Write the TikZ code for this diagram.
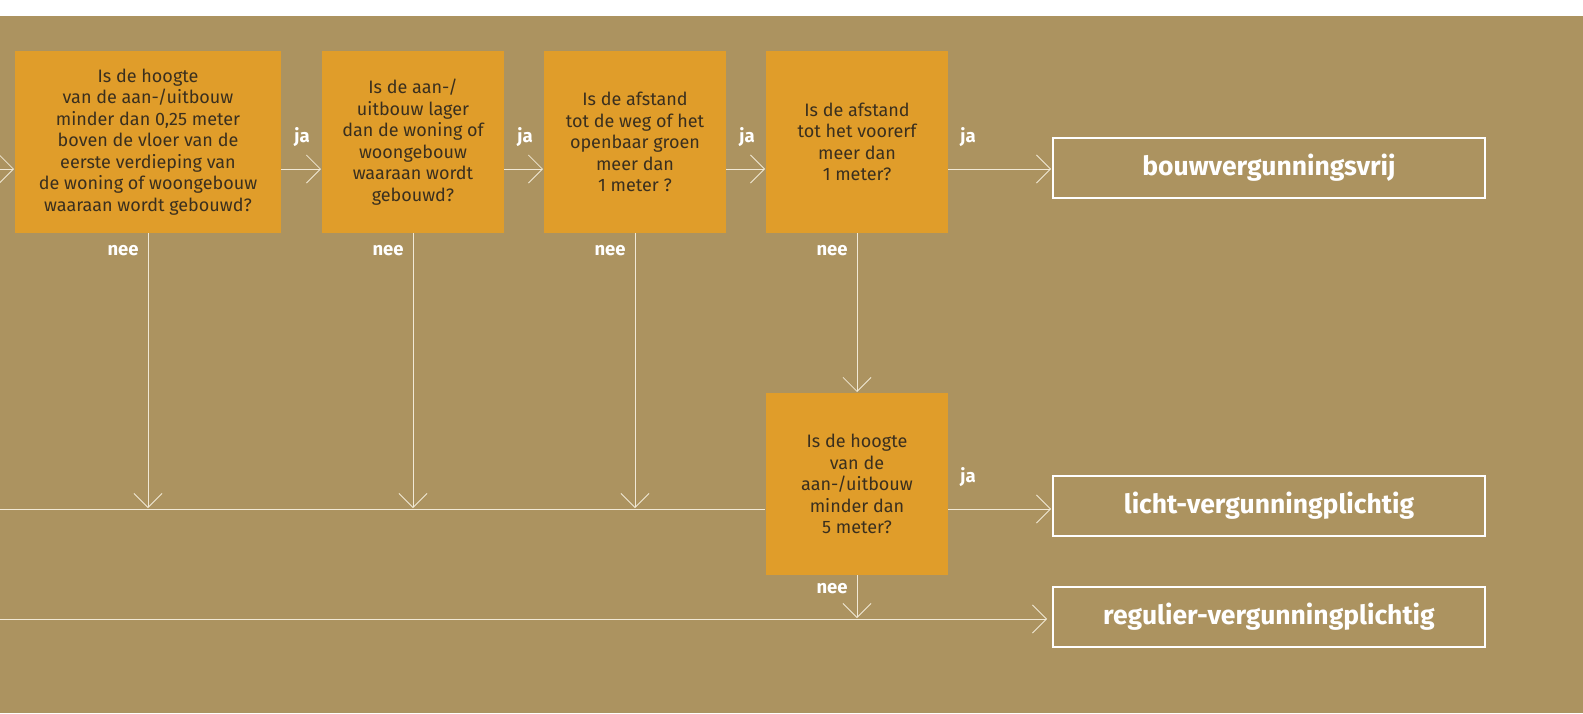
\documentclass[tikz,border=0pt]{standalone}
\usepackage{fontspec}
\setmainfont{Fira Sans}
\usetikzlibrary{arrows.meta,positioning}

\definecolor{bgbrown}{HTML}{AC9360}
\definecolor{qorange}{HTML}{E09D2A}
\definecolor{qtext}{HTML}{3A2F1E}
\definecolor{linecream}{HTML}{F1E9D6}

\begin{document}
\begin{tikzpicture}[
	x = 1pt, y = -1pt, % pixel grid, y runs down
	> = {Straight Barb[length=14pt, width=28pt]}, % open arrow head
	shorten > = 1pt,
	line width = 0.8pt,
	Q/.style={rectangle, fill=qorange, text=qtext, align=center, inner sep=0pt, outer sep=0pt, minimum width=182pt, minimum height=182pt, font=\fontsize{18}{21.5}\selectfont},  % question box
	R/.style={rectangle, draw=white, line width=2pt, text=white, inner sep=0pt, minimum width=432pt, minimum height=60pt, font=\fontsize{26.5}{28}\selectfont\bfseries},  % outcome box
	L/.style={text=white, inner sep=0pt, font=\fontsize{18.5}{20}\selectfont\bfseries},
	flow/.style={->, draw=linecream},
	]

	% background
	\useasboundingbox (0,0) rectangle (1583,713);
	\fill[white] (0,0) rectangle (1583,16);
	\fill[bgbrown] (0,16) rectangle (1583,713);

	% rows of the connectors
	\coordinate (jarow) at (0,169);
	\coordinate (neerow) at (0,509);
	\coordinate (regrow) at (0,619);

	% Questions and their relative positions
	\node[Q, minimum width=266pt] (hoogte) at (148,142) {Is de hoogte\\van de aan-/uitbouw\\minder dan 0,25 meter\\boven de vloer van de\\eerste verdieping van\\de woning of woongebouw\\waaraan wordt gebouwd?};
	\node[Q] (lager)  [right = 41pt of hoogte] {Is de aan-/\\uitbouw lager\\dan de woning of\\woongebouw\\waaraan wordt\\gebouwd?};
	\node[Q] (weg)    [right = 40pt of lager] {Is de afstand\\tot de weg of het\\openbaar groen\\meer dan\\1 meter ?};
	\node[Q] (erf)    [right = 40pt of weg] {Is de afstand\\tot het voorerf\\meer dan\\1 meter?};
	\node[Q] (vijf)   [below = 160pt of erf] {Is de hoogte\\van de\\aan-/uitbouw\\minder dan\\5 meter?};

	% Outcomes
	\node[R] (vrij)  at (1269,168) {bouwvergunningsvrij};
	\node[R] (licht) at (1269,506) {licht-vergunningplichtig};
	\node[R] (regul) at (1269,617) {regulier-vergunningplichtig};

	% ja paths
	\draw[flow] (jarow) -- (hoogte.west |- jarow);
	\draw[flow] (hoogte.east |- jarow) -- node[L, pos=0, anchor=base west, xshift=13pt, yshift=27pt] {ja} (lager.west |- jarow);
	\draw[flow] (lager.east |- jarow) -- node[L, pos=0, anchor=base west, xshift=13pt, yshift=27pt] {ja} (weg.west |- jarow);
	\draw[flow] (weg.east |- jarow) -- node[L, pos=0, anchor=base west, xshift=13pt, yshift=27pt] {ja} (erf.west |- jarow);
	\draw[flow] (erf.east |- jarow) -- node[L, pos=0, anchor=base west, xshift=12pt, yshift=27pt] {ja} (vrij.west |- jarow);
	\draw[flow] (vijf.east |- neerow) -- node[L, pos=0, anchor=base west, xshift=12pt, yshift=27pt] {ja} (licht.west |- neerow);

	% nee paths
	\draw[flow] (hoogte.south) -- node[L, pos=0, anchor=base east, xshift=-9pt, yshift=-22pt] {nee} (hoogte |- neerow);
	\draw[flow] (lager.south) -- node[L, pos=0, anchor=base east, xshift=-9pt, yshift=-22pt] {nee} (lager |- neerow);
	\draw[flow] (weg.south) -- node[L, pos=0, anchor=base east, xshift=-9pt, yshift=-22pt] {nee} (weg |- neerow);
	\draw[flow] (erf.south) -- node[L, pos=0, anchor=base east, xshift=-9pt, yshift=-22pt] {nee} (vijf.north);
	\draw[flow] (vijf.south) -- node[L, pos=0, anchor=base east, xshift=-9pt, yshift=-18pt] {nee} (vijf |- regrow);
	\draw[linecream] (neerow) -- (vijf.west |- neerow);
	\draw[flow, shorten > = 5pt] (regrow) -- (regul.west |- regrow);

\end{tikzpicture}
\end{document}
